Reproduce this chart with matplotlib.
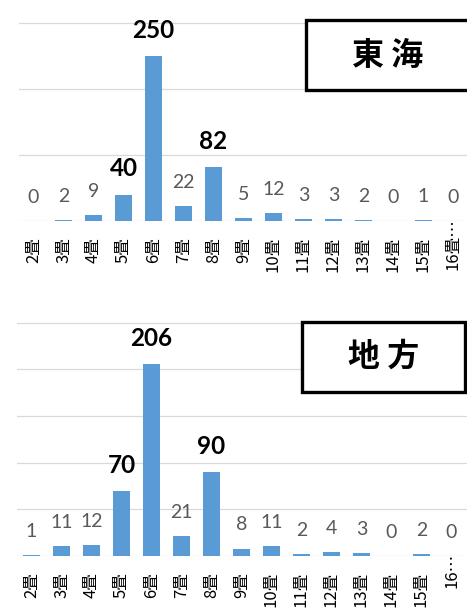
import matplotlib
matplotlib.use('Agg')
import matplotlib.pyplot as plt
import matplotlib.transforms as mtransforms
from matplotlib.patches import Rectangle
import numpy as np

categories = ['2畳', '3畳', '4畳', '5畳', '6畳', '7畳', '8畳', '9畳', '10畳',
              '11畳', '12畳', '13畳', '14畳', '15畳']
last_labels = ['16畳…', '16…']
tokai = [0, 2, 9, 40, 250, 22, 82, 5, 12, 3, 3, 2, 0, 1, 0]
chiho = [1, 11, 12, 70, 206, 21, 90, 8, 11, 2, 4, 3, 0, 2, 0]
bold_idx = [3, 4, 6]
titles = ['東 海', '地 方']

W, H = 467, 612
fig = plt.figure(figsize=(W / 100, H / 100), dpi=100)
JP = ['Noto Sans CJK JP', 'DejaVu Sans']
NUM = ['Lato', 'DejaVu Sans']
BAR = '#5B9BD5'
GRID = '#D9D9D9'


def px_rect(x0, y0, x1, y1):
    return [x0 / W, 1 - y1 / H, (x1 - x0) / W, (y1 - y0) / H]


panels = [
    dict(vals=tokai, rect=px_rect(18.5, 22, 468.5, 221), ymax=300, step=100,
         title=titles[0], box=(306, 20, 472, 90), tpos=(388, 56),
         last=last_labels[0], lab_off=16, last_off=-3),
    dict(vals=chiho, rect=px_rect(16.5, 322, 466.5, 556), ymax=250, step=50,
         title=titles[1], box=(302, 322, 465, 392), tpos=(384, 357),
         last=last_labels[1], lab_off=16, last_off=-3),
]

for p in panels:
    ax = fig.add_axes(p['rect'])
    vals = p['vals']
    x = np.arange(len(vals))
    ax.bar(x, vals, width=0.57, color=BAR, zorder=2)
    ax.set_xlim(-0.5, len(vals) - 0.5)
    ax.set_ylim(0, p['ymax'] * 1.003)
    ax.set_yticks(np.arange(0, p['ymax'] + 1, p['step']))
    ax.grid(axis='y', color=GRID, linewidth=0.9, zorder=0)
    ax.set_axisbelow(True)
    for s in ax.spines.values():
        s.set_visible(False)
    ax.tick_params(left=False, labelleft=False, bottom=False, labelbottom=False)

    for i, v in enumerate(vals):
        if i in bold_idx:
            ax.annotate(str(v), (i, v), xytext=(0, 13), textcoords='offset points',
                        ha='center', va='baseline', fontsize=17.5, fontweight='bold',
                        color='black', family=NUM, annotation_clip=False)
        else:
            ax.annotate(str(v), (i, v), xytext=(0, 13), textcoords='offset points',
                        ha='center', va='baseline', fontsize=14,
                        color='#595959', family=NUM, annotation_clip=False)

    labels = categories + [p['last']]
    for i, lab in enumerate(labels):
        off = p['lab_off'] if i < len(labels) - 1 else p['last_off']
        tr = ax.get_xaxis_transform() + mtransforms.ScaledTranslation(
            0, -off / 100, fig.dpi_scale_trans)
        ax.text(i, 0, lab, transform=tr, rotation=90, ha='center', va='top',
                fontsize=12, family=JP, color='black', clip_on=False)

    bx0, by0, bx1, by1 = p['box']
    rect = Rectangle((bx0 / W, 1 - by1 / H), (bx1 - bx0) / W, (by1 - by0) / H,
                     transform=fig.transFigure, facecolor='white',
                     edgecolor='black', linewidth=2.4, zorder=5, clip_on=False)
    fig.add_artist(rect)
    fig.text(p['tpos'][0] / W, 1 - p['tpos'][1] / H, p['title'], ha='center',
             va='center', fontsize=23, fontweight='bold', family=JP, zorder=6)

fig.savefig('out.png', dpi=100, facecolor='white')
